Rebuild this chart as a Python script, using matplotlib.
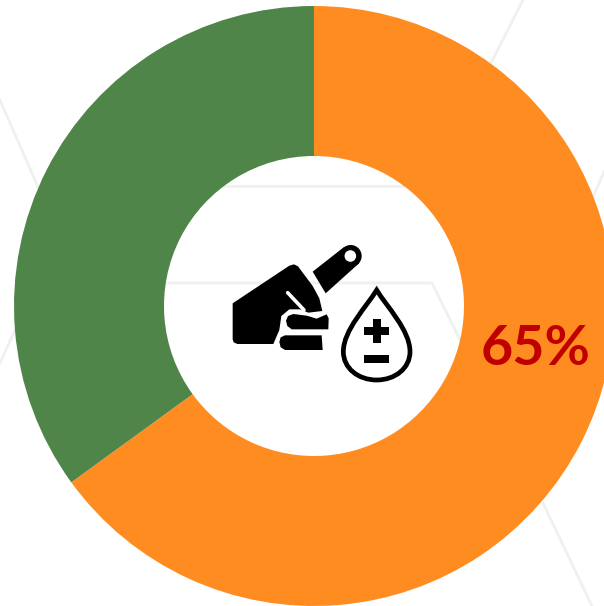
import matplotlib.pyplot as plt
from matplotlib.patches import Circle, PathPatch, Polygon
from matplotlib.path import Path

labels = ['Yes', 'No']
values = [65, 35]
colors = ['#FF8C21', '#50854A']
value_label = '65%'

W, H = 604, 606


# icon and background were measured in a zoomed crop, z() maps them back to pixels
def z(x, y):
    return 160 + x / 3, H - (150 + y / 3)


def pts(points):
    return [z(x, y) for x, y in points]


fig = plt.figure(figsize=(W / 100, H / 100), dpi=100)
ax = fig.add_axes([0, 0, 1, 1])

# faint hexagons behind the ring
bg_lines = [
    ([(523, 0), (490, 65)], '#f0f0f0'),
    ([(0, 100), (38, 187)], '#f0f0f0'),
    ([(223, 186), (403, 186)], '#f0f0f0'),
    ([(165, 283), (432, 283), (460, 340)], '#edf1f1'),
    ([(604, 172), (593, 197)], '#f0f0f0'),
    ([(543, 503), (592, 606)], '#f0f0f0'),
    ([(0, 363), (15, 330)], '#f0f0f0'),
]
for line, c in bg_lines:
    ax.plot([p[0] for p in line], [H - p[1] for p in line], color=c, lw=2, zorder=0)

ax.pie(values, colors=colors, startangle=90, counterclock=False, center=(314, H - 306),
       radius=300, wedgeprops={'width': 150, 'linewidth': 0}, frame=False)

ax.set_xlim(0, W)
ax.set_ylim(0, H)
ax.set_aspect('equal')
ax.axis('off')

# hand
hand = [(218, 460), (388, 347), (402, 343), (414, 349), (458, 408), (478, 445), (487, 483),
        (445, 488), (420, 478), (388, 478), (364, 498), (358, 540), (340, 582),
        (232, 582), (221, 577), (218, 568)]
ax.add_patch(Polygon(pts(hand), closed=True, fc='black', ec='none', zorder=5))
ax.plot(*zip(*pts([(383, 428), (432, 480)])), color='white', lw=2.6,
        solid_capstyle='round', zorder=6)
finger = [(400, 492), (440, 497), (470, 506), (500, 493), (506, 505), (505, 538), (395, 538),
          (382, 528), (378, 512), (384, 498)]
ax.add_patch(Polygon(pts(finger), closed=True, fc='black', ec='none', zorder=5))
finger2 = [(375, 556), (485, 556), (488, 600), (375, 600), (362, 592), (358, 576), (362, 562)]
ax.add_patch(Polygon(pts(finger2), closed=True, fc='black', ec='none', zorder=5))

# lancet
lancet = [(458, 365), (551, 292), (597, 340), (497, 430)]
ax.add_patch(Polygon(pts(lancet), closed=True, fc='black', ec='none', zorder=5))
ax.add_patch(Circle(z(572, 318), 11, fc='black', ec='none', zorder=5))
ax.add_patch(Circle(z(571, 318), 5.8, fc='white', ec='none', zorder=6))

# drop
drop_verts = pts([(650, 420), (680, 470), (750, 540), (750, 605), (750, 655), (705, 690), (650, 690),
                  (595, 690), (550, 655), (550, 605), (550, 540), (620, 470), (650, 420), (650, 420)])
drop_codes = [Path.MOVETO] + [Path.CURVE4] * 12 + [Path.CLOSEPOLY]
ax.add_patch(PathPatch(Path(drop_verts, drop_codes), fc='white', ec='black', lw=3.4,
                       joinstyle='miter', zorder=5))
for box in ([(612, 532), (688, 532), (688, 555), (612, 555)],
            [(638, 506), (662, 506), (662, 580), (638, 580)],
            [(612, 614), (688, 614), (688, 638), (612, 638)]):
    ax.add_patch(Polygon(pts(box), closed=True, fc='black', ec='none', zorder=6))

ax.text(536, H - 349, value_label, color='#C00000', fontsize=40, family='Lato', weight='bold',
        ha='center', va='center', zorder=7)

fig.savefig('out.png', dpi=100)
